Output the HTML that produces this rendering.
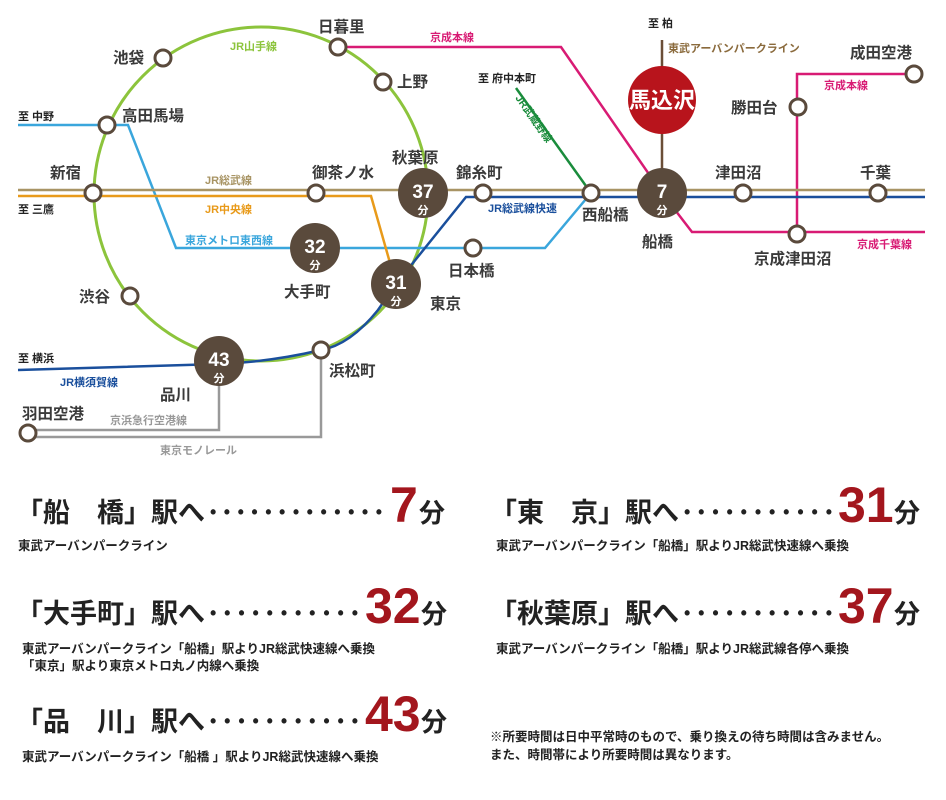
<!DOCTYPE html>
<html><head><meta charset="utf-8"><style>
body{margin:0;background:#fff}
svg{display:block;font-family:"Liberation Sans","Noto Sans CJK JP",sans-serif}
.st{fill:#fff;stroke:#5a4a3c;stroke-width:3}
.n{font-size:15.5px;font-weight:bold;fill:#3a3a3a}
.s{font-size:11px;font-weight:bold}
.h{font-size:27px;font-weight:bold;fill:#222}
.num{font-family:"Liberation Sans",sans-serif;font-weight:bold;font-size:50px;fill:#a3161d}
.fen{font-size:26px;font-weight:bold;fill:#222}
.sub{font-size:12.5px;font-weight:bold;fill:#222}
.dots{font-size:18px;font-weight:bold;fill:#222;font-family:"Liberation Sans",sans-serif}
</style></head><body>
<svg width="946" height="800" viewBox="0 0 946 800">
<circle cx="261" cy="194" r="167" fill="none" stroke="#8cc43c" stroke-width="3"/>
<polyline points="338,47 561,47 662,193" fill="none" stroke="#d81b74" stroke-width="2.5"/>
<polyline points="662,193 692,232 925,232" fill="none" stroke="#d81b74" stroke-width="2.5"/>
<polyline points="797,234 797,74 914,74" fill="none" stroke="#d81b74" stroke-width="2.5"/>
<line x1="662" y1="40" x2="662" y2="193" stroke="#6b4e37" stroke-width="2.5"/>
<line x1="516" y1="88" x2="591" y2="193" stroke="#1a8c3c" stroke-width="2.5"/>
<polyline points="18,125 128,125 176,248 545,248 591,193" fill="none" stroke="#3aa6dc" stroke-width="2.5"/>
<line x1="18" y1="190" x2="925" y2="190" stroke="#a89464" stroke-width="2.5"/>
<polyline points="18,196 371,196 396,284" fill="none" stroke="#e89a1a" stroke-width="2.5"/>
<polyline points="925,197 466,197 396,284" fill="none" stroke="#1a4f9c" stroke-width="2.5"/>
<path d="M396,284 L378,310 Q350,345 321,350 Q270,362 219,364 L18,370" fill="none" stroke="#1a4f9c" stroke-width="2.5"/>
<polyline points="219,361 219,430 28,430" fill="none" stroke="#999" stroke-width="2.5"/>
<polyline points="321,350 321,437 28,437" fill="none" stroke="#999" stroke-width="2.5"/>
<g class="st">
<circle cx="163" cy="58" r="8"/><circle cx="338" cy="47" r="8"/><circle cx="383" cy="82" r="8"/>
<circle cx="107" cy="125" r="8"/><circle cx="93" cy="193" r="8"/><circle cx="316" cy="193" r="8"/>
<circle cx="483" cy="193" r="8"/><circle cx="130" cy="296" r="8"/><circle cx="321" cy="350" r="8"/>
<circle cx="28" cy="433" r="8"/><circle cx="473" cy="248" r="8"/><circle cx="591" cy="193" r="8"/>
<circle cx="743" cy="193" r="8"/><circle cx="878" cy="193" r="8"/><circle cx="798" cy="107" r="8"/>
<circle cx="914" cy="74" r="8"/><circle cx="797" cy="234" r="8"/>
</g>
<g fill="#5a4a3c">
<circle cx="423" cy="193" r="25"/><circle cx="315" cy="248" r="25"/><circle cx="396" cy="284" r="25"/>
<circle cx="219" cy="361" r="25"/><circle cx="662" cy="193" r="25"/>
</g>
<circle cx="662" cy="100" r="34" fill="#b8141c"/>
<text x="662" y="108" text-anchor="middle" font-size="22" font-weight="bold" fill="#fff">馬込沢</text>
<g fill="#fff" font-weight="bold" text-anchor="middle">
<text x="423" y="198" font-size="19" font-family="Liberation Sans">37</text><text x="423" y="214" font-size="11">分</text>
<text x="315" y="253" font-size="19" font-family="Liberation Sans">32</text><text x="315" y="269" font-size="11">分</text>
<text x="396" y="289" font-size="19" font-family="Liberation Sans">31</text><text x="396" y="305" font-size="11">分</text>
<text x="219" y="366" font-size="19" font-family="Liberation Sans">43</text><text x="219" y="382" font-size="11">分</text>
<text x="662" y="198" font-size="19" font-family="Liberation Sans">7</text><text x="662" y="214" font-size="11">分</text>
</g>
<g class="n">
<text x="113" y="63">池袋</text><text x="318" y="32">日暮里</text><text x="397" y="87">上野</text>
<text x="122" y="121">高田馬場</text><text x="50" y="178">新宿</text><text x="312" y="178">御茶ノ水</text>
<text x="392" y="163">秋葉原</text><text x="456" y="178">錦糸町</text><text x="284" y="297">大手町</text>
<text x="430" y="309">東京</text><text x="79" y="302">渋谷</text><text x="160" y="400">品川</text>
<text x="329" y="376">浜松町</text><text x="22" y="419">羽田空港</text><text x="448" y="276">日本橋</text>
<text x="582" y="220">西船橋</text><text x="642" y="247">船橋</text><text x="715" y="178">津田沼</text>
<text x="860" y="178">千葉</text><text x="731" y="113">勝田台</text><text x="850" y="58">成田空港</text>
<text x="754" y="264">京成津田沼</text>
</g>
<g class="s" fill="#222">
<text x="18" y="120">至 中野</text><text x="18" y="213">至 三鷹</text><text x="18" y="362">至 横浜</text>
<text x="648" y="27">至 柏</text><text x="478" y="82">至 府中本町</text>
</g>
<g class="s">
<text x="230" y="50" fill="#8cc43c">JR山手線</text>
<text x="205" y="184" fill="#a89464">JR総武線</text>
<text x="205" y="213" fill="#e89a1a">JR中央線</text>
<text x="185" y="244" fill="#3aa6dc">東京メトロ東西線</text>
<text x="60" y="386" fill="#1a4f9c">JR横須賀線</text>
<text x="110" y="424" fill="#999">京浜急行空港線</text>
<text x="160" y="454" fill="#999">東京モノレール</text>
<text x="430" y="41" fill="#d81b74">京成本線</text>
<text x="668" y="52" fill="#8a6a3c">東武アーバンパークライン</text>
<text x="488" y="212" fill="#1a4f9c">JR総武線快速</text>
<text x="824" y="89" fill="#d81b74">京成本線</text>
<text x="857" y="248" fill="#d81b74">京成千葉線</text>
<text transform="translate(515,98) rotate(55)" fill="#1a8c3c" font-size="10.5">JR武蔵野線</text>
</g>
<text class="h" x="16" y="522">「船　橋」駅へ</text>
<text class="dots" x="210" y="518" textLength="172">•••••••••••••</text>
<text class="num" x="390" y="522">7</text><text class="fen" x="419" y="522">分</text>
<text class="sub" x="18" y="550">東武アーバンパークライン</text>

<text class="h" x="16" y="623">「大手町」駅へ</text>
<text class="dots" x="210" y="619" textLength="148">•••••••••••</text>
<text class="num" x="365" y="623">32</text><text class="fen" x="421" y="623">分</text>
<text class="sub" x="22" y="653">東武アーバンパークライン「船橋」駅よりJR総武快速線へ乗換</text>
<text class="sub" x="22" y="670">「東京」駅より東京メトロ丸ノ内線へ乗換</text>

<text class="h" x="16" y="731">「品　川」駅へ</text>
<text class="dots" x="210" y="727" textLength="148">•••••••••••</text>
<text class="num" x="365" y="731">43</text><text class="fen" x="421" y="731">分</text>
<text class="sub" x="22" y="761">東武アーバンパークライン「船橋 」駅よりJR総武快速線へ乗換</text>

<text class="h" x="490" y="522">「東　京」駅へ</text>
<text class="dots" x="684" y="518" textLength="148">•••••••••••</text>
<text class="num" x="838" y="522">31</text><text class="fen" x="894" y="522">分</text>
<text class="sub" x="496" y="550">東武アーバンパークライン「船橋」駅よりJR総武快速線へ乗換</text>

<text class="h" x="490" y="623">「秋葉原」駅へ</text>
<text class="dots" x="684" y="619" textLength="148">•••••••••••</text>
<text class="num" x="838" y="623">37</text><text class="fen" x="894" y="623">分</text>
<text class="sub" x="496" y="653">東武アーバンパークライン「船橋」駅よりJR総武線各停へ乗換</text>

<text class="sub" x="490" y="741" font-size="12">※所要時間は日中平常時のもので、乗り換えの待ち時間は含みません。</text>
<text class="sub" x="490" y="759" font-size="12">また、時間帯により所要時間は異なります。</text>
</svg>
</body></html>
